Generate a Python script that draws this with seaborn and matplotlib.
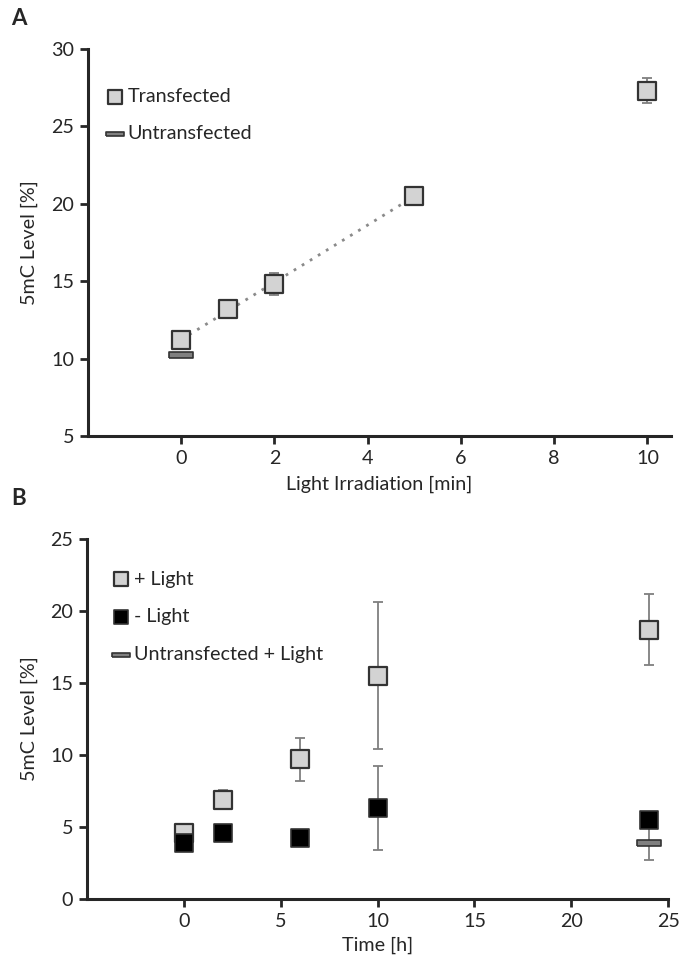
import numpy as np
import pandas as pd
import matplotlib
matplotlib.use("Agg")
import matplotlib.pyplot as plt
import seaborn as sns

# panel A: 5mC level vs light irradiation time
irr_min = [0, 1, 2, 5, 10]
transfected = [11.2, 13.2, 14.8, 20.5, 27.3]
transfected_err = [0.3, 0.3, 0.7, 0.3, 0.8]
untrans_a_x = [0]
untrans_a = [10.2]
untrans_a_err = [0.1]

# panel B: 5mC level vs time after irradiation
time_h = [0, 2, 6, 10, 24]
plus_light = [4.6, 6.9, 9.7, 15.5, 18.7]
plus_light_err = [0.6, 0.65, 1.5, 5.1, 2.45]
minus_light = [3.9, 4.6, 4.2, 6.3, 5.5]
minus_light_err = [0.3, 0.3, 0.3, 2.9, 0.4]
untrans_b_x = [24]
untrans_b = [3.9]
untrans_b_err = [1.2]

sns.set_style("ticks")
plt.rcParams["font.family"] = ["Lato", "DejaVu Sans"]
FS = 14.2

LIGHT = "#d3d3d3"
EDGE = "#333333"
ERR = "#7f7f7f"
bar_marker = [(-1, -0.24), (1, -0.24), (1, 0.24), (-1, 0.24), (-1, -0.24)]


def errs(ax, x, y, e):
    ax.errorbar(x, y, yerr=e, fmt="none", ecolor=ERR, elinewidth=1.3,
                capsize=3.5, capthick=1.3, zorder=1)


def style_axes(ax):
    sns.despine(ax=ax)
    for s in ["left", "bottom"]:
        ax.spines[s].set_linewidth(2.2)
    ax.tick_params(direction="out", length=6, width=2, labelsize=FS, pad=4)


def add_legend(ax, x0, y0):
    ax.legend(loc="upper left", bbox_to_anchor=(x0, y0), frameon=False,
              borderpad=0, borderaxespad=0, handlelength=0.8, handletextpad=0.25,
              labelspacing=1.05, fontsize=FS, markerscale=0.75)


fig = plt.figure(figsize=(6.81, 9.59), dpi=100)

# ---- A ----
ax1 = fig.add_axes([0.129, 0.5454, 0.856, 0.4035])
df_a = pd.DataFrame({"x": irr_min, "y": transfected})
sns.regplot(x="x", y="y", data=df_a.iloc[:4], scatter=False, ci=None, ax=ax1,
            line_kws=dict(ls=(0, (1, 2.4)), color="#8a8a8a", lw=2.0, zorder=1.5))
errs(ax1, irr_min, transfected, transfected_err)
errs(ax1, untrans_a_x, untrans_a, untrans_a_err)
sns.scatterplot(x="x", y="y", data=df_a, marker="s", s=160, color=LIGHT,
                edgecolor=EDGE, linewidth=1.6, label="Transfected", ax=ax1, zorder=3)
sns.scatterplot(x=untrans_a_x, y=untrans_a, marker=bar_marker, s=280, color="#808080",
                edgecolor=EDGE, linewidth=1.2, label="Untransfected", ax=ax1, zorder=3)
ax1.set_xlim(-2, 10.5)
ax1.set_ylim(5, 30)
ax1.set_xticks([0, 2, 4, 6, 8, 10])
ax1.set_yticks([5, 10, 15, 20, 25, 30])
ax1.set_xlabel("Light Irradiation [min]", fontsize=FS, labelpad=6)
ax1.set_ylabel("5mC Level [%]", fontsize=FS, labelpad=9)
style_axes(ax1)
add_legend(ax1, 0.033, 0.900)
fig.text(0.017, 0.974, "A", fontsize=16, fontweight="bold")

# ---- B ----
ax2 = fig.add_axes([0.128, 0.0626, 0.853, 0.3754])
df_b = pd.DataFrame({"t": time_h, "plus": plus_light, "minus": minus_light})
errs(ax2, time_h, plus_light, plus_light_err)
errs(ax2, time_h, minus_light, minus_light_err)
errs(ax2, untrans_b_x, untrans_b, untrans_b_err)
sns.scatterplot(x="t", y="plus", data=df_b, marker="s", s=160, color=LIGHT,
                edgecolor=EDGE, linewidth=1.6, label="+ Light", ax=ax2, zorder=3)
sns.scatterplot(x="t", y="minus", data=df_b, marker="s", s=160, color="black",
                edgecolor=EDGE, linewidth=1.2, label="- Light", ax=ax2, zorder=4)
sns.scatterplot(x=untrans_b_x, y=untrans_b, marker=bar_marker, s=280, color="#808080",
                edgecolor=EDGE, linewidth=1.2, label="Untransfected + Light", ax=ax2, zorder=4)
ax2.set_xlim(-5, 25)
ax2.set_ylim(0, 25)
ax2.set_xticks([0, 5, 10, 15, 20, 25])
ax2.set_yticks([0, 5, 10, 15, 20, 25])
ax2.set_xlabel("Time [h]", fontsize=FS, labelpad=5)
ax2.set_ylabel("5mC Level [%]", fontsize=FS, labelpad=9)
style_axes(ax2)
add_legend(ax2, 0.045, 0.912)
fig.text(0.017, 0.473, "B", fontsize=16, fontweight="bold")

fig.savefig("out.png", dpi=100)
